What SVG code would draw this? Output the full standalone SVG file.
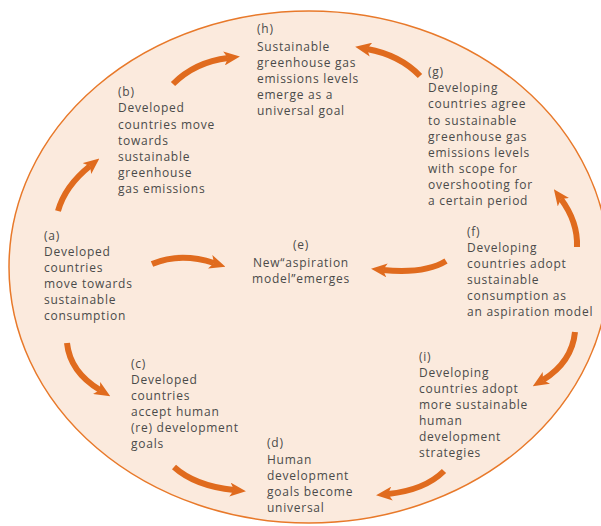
<svg xmlns="http://www.w3.org/2000/svg" width="601" height="526" viewBox="0 0 601 526">
<style>
text{font-family:"Open Sans","Liberation Sans",sans-serif;font-size:12px;fill:#4a4a4a;letter-spacing:0.75px}
.arr{fill:none;stroke:#e06b1e;stroke-width:6;marker-end:url(#ah)}
</style>
<defs>
<marker id="ah" markerUnits="userSpaceOnUse" viewBox="0 0 16 14" markerWidth="16" markerHeight="14" refX="4" refY="7" orient="auto">
<path d="M0,0 L16,7 L0,14 L4,7 Z" fill="#e06b1e"/>
</marker>
</defs>
<rect width="601" height="526" fill="#ffffff"/>
<ellipse cx="309" cy="267" rx="300" ry="256" fill="#fbeadd" stroke="#e8792a" stroke-width="1.5"/>
<g id="connectors">
<path class="arr" d="M58,211 Q65,186 90,166"/>
<path class="arr" d="M173,84 Q195,62 228,58"/>
<path class="arr" d="M420,76 Q400,55 367,49"/>
<path class="arr" d="M577,247 Q578,222 561,199"/>
<path class="arr" d="M575,332 Q572,362 543,380"/>
<path class="arr" d="M444,471 Q425,490 388,494"/>
<path class="arr" d="M174,467 Q195,486 234,490"/>
<path class="arr" d="M67,343 Q70,372 100,390"/>
<path class="arr" d="M152,264 Q180,252 214,263"/>
<path class="arr" d="M446,261 Q425,274 383,270"/>
</g>
<g id="node-h"><text x="257" y="33">(h)</text><text x="257" y="51">Sustainable</text><text x="257" y="67">greenhouse gas</text><text x="257" y="83">emissions levels</text><text x="257" y="99">emerge as a</text><text x="257" y="115">universal goal</text></g>
<g id="node-b"><text x="118" y="96">(b)</text><text x="118" y="112">Developed</text><text x="118" y="128.5">countries move</text><text x="118" y="144.5">towards</text><text x="118" y="161">sustainable</text><text x="118" y="177">greenhouse</text><text x="118" y="193">gas emissions</text></g>
<g id="node-g"><text x="428" y="76">(g)</text><text x="428" y="92">Developing</text><text x="428" y="108">countries agree</text><text x="428" y="124.5">to sustainable</text><text x="428" y="140.5">greenhouse gas</text><text x="428" y="156.5">emissions levels</text><text x="428" y="172.5">with scope for</text><text x="428" y="188.5">overshooting for</text><text x="428" y="204.5">a certain period</text></g>
<g id="node-a"><text x="44" y="240">(a)</text><text x="44" y="256">Developed</text><text x="44" y="272">countries</text><text x="44" y="288">move towards</text><text x="44" y="304">sustainable</text><text x="44" y="320">consumption</text></g>
<g id="node-e"><text x="301" y="249" text-anchor="middle">(e)</text><text x="301" y="267" text-anchor="middle">New“aspiration</text><text x="301" y="283" text-anchor="middle">model”emerges</text></g>
<g id="node-f"><text x="467" y="236">(f)</text><text x="467" y="252">Developing</text><text x="467" y="268">countries adopt</text><text x="467" y="284">sustainable</text><text x="467" y="300">consumption as</text><text x="467" y="316">an aspiration model</text></g>
<g id="node-c"><text x="131" y="368">(c)</text><text x="131" y="384">Developed</text><text x="131" y="400">countries</text><text x="131" y="416">accept human</text><text x="131" y="432">(re) development</text><text x="131" y="448">goals</text></g>
<g id="node-i"><text x="419" y="361">(i)</text><text x="419" y="377">Developing</text><text x="419" y="393">countries adopt</text><text x="419" y="409">more sustainable</text><text x="419" y="425">human</text><text x="419" y="441">development</text><text x="419" y="457">strategies</text></g>
<g id="node-d"><text x="267" y="447">(d)</text><text x="267" y="464">Human</text><text x="267" y="480">development</text><text x="267" y="496">goals become</text><text x="267" y="512">universal</text></g>
</svg>
